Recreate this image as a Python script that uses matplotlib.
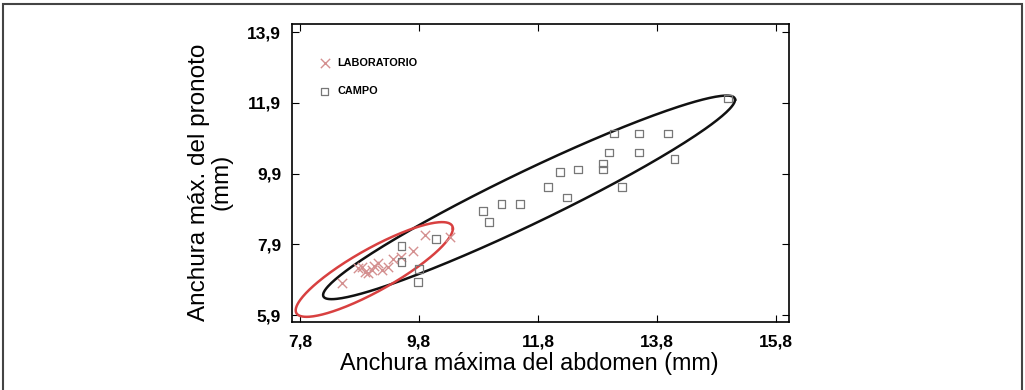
import numpy as np
import matplotlib.pyplot as plt
from matplotlib.patches import Rectangle

plt.rcParams['font.family'] = ['Liberation Sans', 'DejaVu Sans']

# LABORATORIO (x marks)
lab_x = [8.51, 8.78, 8.84, 8.89, 8.94, 9.01, 9.05, 9.11, 9.18, 9.28, 9.36, 9.50, 9.70, 9.90, 10.32]
lab_y = [6.80, 7.24, 7.26, 7.11, 7.09, 7.17, 7.30, 7.37, 7.17, 7.26, 7.48, 7.55, 7.71, 8.16, 8.10]

# CAMPO (squares)
campo_x = [13.08, 13.50, 13.98, 12.99, 13.50, 14.09, 12.89, 12.89, 12.17, 12.47, 11.97, 13.21,
           12.29, 11.19, 11.50, 10.88, 10.98, 14.99, 10.09, 9.51, 9.51, 9.80, 9.78]
campo_y = [11.04, 11.04, 11.04, 10.50, 10.50, 10.31, 10.19, 10.02, 9.94, 10.02, 9.52, 9.52,
           9.23, 9.04, 9.04, 8.84, 8.53, 12.03, 8.05, 7.85, 7.40, 7.20, 6.83]

# confidence ellipses: centre x, centre y, half range x, half range y, correlation
ell_lab = [9.05, 7.19, 1.32, 1.34, 0.862]
ell_campo = [11.65, 9.23, 3.46, 2.88, 0.959]

xticks = [7.8, 9.8, 11.8, 13.8, 15.8]
yticks = [5.9, 7.9, 9.9, 11.9, 13.9]


def ellipse(p, n=300):
    cx, cy, hx, hy, r = p
    t = np.linspace(0, 2 * np.pi, n)
    return cx + hx * np.cos(t), cy + hy * (r * np.cos(t) + np.sqrt(1 - r ** 2) * np.sin(t))


fig = plt.figure(figsize=(10.25, 3.9), dpi=100)
ax = fig.add_axes([0.285, 0.174, 0.485, 0.764])

ax.scatter(lab_x, lab_y, marker='x', s=45, c='#d49090', linewidths=1.0, label='LABORATORIO', zorder=3)
ax.scatter(campo_x, campo_y, marker='s', s=30, facecolors='none', edgecolors='#777777',
           linewidths=0.9, label='CAMPO', zorder=3)

ex, ey = ellipse(ell_campo)
ax.plot(ex, ey, color='#111111', lw=1.8, zorder=2)
ex, ey = ellipse(ell_lab)
ax.plot(ex, ey, color='#d84040', lw=1.8, zorder=2)

ax.set_xlim(7.67, 16.02)
ax.set_ylim(5.70, 14.13)
ax.set_xticks(xticks)
ax.set_yticks(yticks)
ax.set_xticklabels([str(v).replace('.', ',') for v in xticks], fontweight='bold', fontsize=12.5)
ax.set_yticklabels([str(v).replace('.', ',') for v in yticks], fontweight='bold', fontsize=12.5)
ax.tick_params(axis='x', direction='in', length=5, top=True, pad=9)
ax.tick_params(axis='y', direction='in', length=5, right=True, pad=8)
for s in ax.spines.values():
    s.set_linewidth(1.2)

ax.set_xlabel('Anchura máxima del abdomen (mm)', fontsize=16.8)
ax.xaxis.set_label_coords(0.477, -0.1, transform=ax.transAxes)
ax.xaxis.label.set_va('top')
ax.set_ylabel('Anchura máx. del pronoto\n(mm)', fontsize=17.5, linespacing=1.0)
ax.yaxis.set_label_coords(-0.12, 0.47)

leg = ax.legend(loc='upper left', bbox_to_anchor=(0.035, 0.92), frameon=False, handlelength=1,
                handletextpad=0.7, labelspacing=1.7, prop={'size': 7.8, 'weight': 'bold'})

fig.patches.append(Rectangle((3 / 1025, -0.02), 1019 / 1025, 1.01, transform=fig.transFigure,
                             fill=False, edgecolor='#444444', lw=1.5))

fig.savefig('out.png', dpi=100)
